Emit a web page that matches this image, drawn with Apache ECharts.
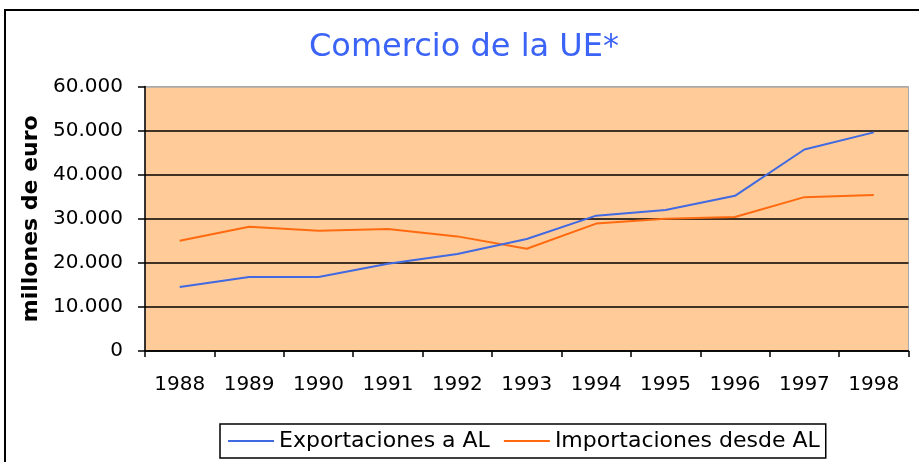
<!DOCTYPE html>
<html>
<head>
<meta charset="utf-8">
<script src="https://cdn.jsdelivr.net/npm/echarts@6/dist/echarts.min.js"></script>
<style>html,body{margin:0;padding:0;background:#fff;}#c{width:919px;height:462px;}</style>
</head>
<body>
<div id="c"></div>
<script>
const categories = ['1988','1989','1990','1991','1992','1993','1994','1995','1996','1997','1998'];
const exportaciones = [14500, 16800, 16800, 19800, 22000, 25400, 30700, 32000, 35200, 45700, 49600];
const importaciones = [25000, 28200, 27300, 27700, 26000, 23200, 28900, 30000, 30400, 34900, 35400];
const yTicks = [0, 10000, 20000, 30000, 40000, 50000, 60000];

const chart = echarts.init(document.getElementById('c'));
const fmt = v => v === 0 ? '0' : String(v).replace(/\B(?=(\d{3})+(?!\d))/g, '.');
chart.setOption({
  animation: false,
  backgroundColor: '#ffffff',
  title: {
    text: 'Comercio de la UE*',
    left: 459, top: 27, textAlign: 'center',
    textStyle: {color: '#3b63f5', fontFamily: 'DejaVu Sans', fontSize: 32, fontWeight: 'normal'}
  },
  graphic: [{
    type: 'rect', shape: {x: 5, y: 10, width: 1000, height: 1000},
    style: {fill: 'none', stroke: '#000', lineWidth: 2}, z: 100
  }],
  legend: {
    left: 220, top: 424,
    padding: [6, 6, 6, 8],
    borderColor: '#000', borderWidth: 1.5,
    itemWidth: 46, itemHeight: 2, itemGap: 14,
    icon: 'rect',
    textStyle: {fontFamily: 'DejaVu Sans', fontSize: 22, color: '#000'},
    data: ['Exportaciones a AL', 'Importaciones desde AL']
  },
  grid: {
    left: 145, right: 10.5, top: 86.5, bottom: 111,
    show: true, backgroundColor: '#ffcc99', borderColor: '#aaa', borderWidth: 1
  },
  xAxis: {
    type: 'category', data: categories, boundaryGap: true,
    axisLine: {lineStyle: {color: '#000', width: 1.5}},
    axisTick: {show: true, length: 6, lineStyle: {color: '#000', width: 1.5}},
    axisLabel: {margin: 24, color: '#000', fontFamily: 'DejaVu Sans', fontSize: 20},
    splitLine: {show: false}
  },
  yAxis: {
    type: 'value', min: yTicks[0], max: yTicks[yTicks.length - 1], interval: 10000,
    name: 'millones de euro', nameLocation: 'middle', nameGap: 102, nameRotate: 90,
    nameTextStyle: {fontFamily: 'DejaVu Sans', fontSize: 22, fontWeight: 'bold', color: '#000'},
    axisLine: {show: true, lineStyle: {color: '#000', width: 1.5}},
    axisTick: {show: true, length: 7, lineStyle: {color: '#000', width: 1.5}},
    axisLabel: {margin: 22, color: '#000', fontFamily: 'DejaVu Sans', fontSize: 20, formatter: fmt},
    splitLine: {show: true, lineStyle: {color: ['#000','#000','#000','#000','#000','#000','#aaa'], width: 1.5}}
  },
  series: [
    {name: 'Exportaciones a AL', type: 'line', data: exportaciones, showSymbol: false,
     lineStyle: {color: '#4169e1', width: 2}, itemStyle: {color: '#4169e1'}, z: 3},
    {name: 'Importaciones desde AL', type: 'line', data: importaciones, showSymbol: false,
     lineStyle: {color: '#ff6a10', width: 2}, itemStyle: {color: '#ff6a10'}, z: 2}
  ]
});
</script>
</body>
</html>
